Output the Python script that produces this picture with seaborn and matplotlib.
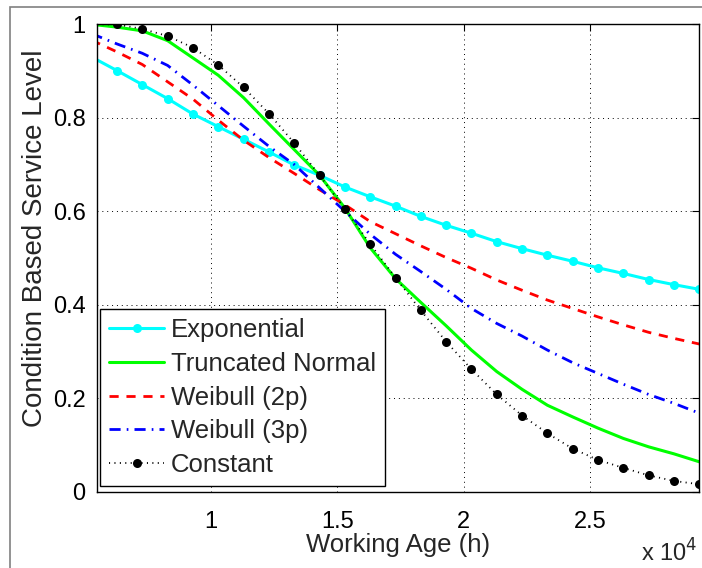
#!/usr/bin/env python

import pandas as pd
import seaborn as sns
from matplotlib import pyplot as plt
from matplotlib.patches import Rectangle

# working age (h)
hours = [5300, 6300, 7300, 8300, 9300, 10300, 11300, 12300, 13300, 14300,
         15300, 16300, 17300, 18300, 19300, 20300, 21300, 22300, 23300,
         24300, 25300, 26300, 27300, 28300, 29300]

exponential = [0.930, 0.901, 0.871, 0.841, 0.808, 0.781, 0.754, 0.727, 0.699,
               0.677, 0.652, 0.631, 0.611, 0.589, 0.570, 0.553, 0.535, 0.520,
               0.506, 0.493, 0.479, 0.467, 0.454, 0.443, 0.433]
truncated_normal = [1.000, 0.994, 0.986, 0.965, 0.928, 0.891, 0.843, 0.787,
                    0.732, 0.677, 0.607, 0.522, 0.456, 0.405, 0.355, 0.303,
                    0.257, 0.219, 0.185, 0.160, 0.136, 0.114, 0.096, 0.081,
                    0.064]
weibull_2p = [0.966, 0.941, 0.914, 0.877, 0.840, 0.795, 0.752, 0.715, 0.681,
              0.646, 0.614, 0.578, 0.552, 0.526, 0.501, 0.478, 0.453, 0.431,
              0.410, 0.392, 0.374, 0.357, 0.341, 0.328, 0.316]
weibull_3p = [0.980, 0.958, 0.938, 0.912, 0.870, 0.826, 0.782, 0.739, 0.700,
              0.650, 0.600, 0.551, 0.508, 0.471, 0.433, 0.392, 0.360, 0.333,
              0.303, 0.276, 0.253, 0.230, 0.208, 0.189, 0.168]
constant = [1.000, 1.000, 0.990, 0.975, 0.950, 0.913, 0.865, 0.809, 0.746,
            0.677, 0.605, 0.530, 0.458, 0.388, 0.321, 0.262, 0.208, 0.163,
            0.125, 0.092, 0.068, 0.051, 0.035, 0.023, 0.016]

x_ticks = [10000, 15000, 20000, 25000]
x_labels = ['1', '1.5', '2', '2.5']
y_ticks = [0, 0.2, 0.4, 0.6, 0.8, 1.0]
y_labels = ['0', '0.2', '0.4', '0.6', '0.8', '1']

df = pd.DataFrame({'hours': hours, 'Exponential': exponential,
                   'Truncated Normal': truncated_normal,
                   'Weibull (2p)': weibull_2p, 'Weibull (3p)': weibull_3p,
                   'Constant': constant})

sns.set_style("white")
plt.rcParams['font.family'] = ['Liberation Sans', 'DejaVu Sans']
plt.rcParams['font.size'] = 17

fig = plt.figure(figsize=(7.02, 5.68), dpi=100)
ax = fig.add_axes([0.1378, 0.1343, 0.8584, 0.8229])

styles = {
    'Exponential': dict(color='#00ffff', linestyle='-', marker='o', markersize=6.5, linewidth=2.2),
    'Truncated Normal': dict(color='#00ff00', linestyle='-', linewidth=2.2),
    'Weibull (2p)': dict(color='#ff0000', linestyle=(0, (3.3, 2.8)), linewidth=2.0),
    'Weibull (3p)': dict(color='#0000ff', linestyle=(0, (4, 2.2, 0.6, 2.2)), linewidth=2.0),
    'Constant': dict(color='black', linestyle=(0, (0.6, 2.4)), marker='o', markersize=6.5, linewidth=1.3),
}
for name, kw in styles.items():
    sns.lineplot(data=df, x='hours', y=name, ax=ax, label=name,
                 markeredgewidth=0, **kw)

ax.set_xlim(5500, 29300)
ax.set_ylim(0, 1)
ax.set_xticks(x_ticks)
ax.set_xticklabels(x_labels)
ax.set_yticks(y_ticks)
ax.set_yticklabels(y_labels)
ax.grid(True, linestyle=(0, (1, 4)), color='black', linewidth=0.7)
ax.tick_params(direction='in', top=True, right=True, length=5, width=0.8,
               labelsize=17, pad=8, colors='black')
ax.tick_params(axis='x', pad=14)
for s in ax.spines.values():
    s.set_color('black')
    s.set_linewidth(1.0)

ax.set_xlabel('Working Age (h)', fontsize=18.5, labelpad=0)
ax.set_ylabel('Condition Based Service Level', fontsize=20)
ax.yaxis.set_label_coords(-0.081, 0.543)
fig.text(0.913, 0.0106, r'x 10$^4$', fontsize=17, ha='left', va='baseline')

leg = ax.legend(loc='lower left', bbox_to_anchor=(0.0055, 0.012), fontsize=18.5,
                frameon=True, fancybox=False, framealpha=1, edgecolor='black',
                handlelength=2.15, handletextpad=0.25, borderpad=0.35,
                labelspacing=0.38, borderaxespad=0)
leg.get_frame().set_linewidth(1.0)

fig.patches.append(Rectangle((10 / 702, -0.1), 1.2, 1 - 7 / 568 + 0.1,
                             transform=fig.transFigure, fill=False,
                             edgecolor='#808080', linewidth=1.2))

plt.savefig('out.png', dpi=100)
